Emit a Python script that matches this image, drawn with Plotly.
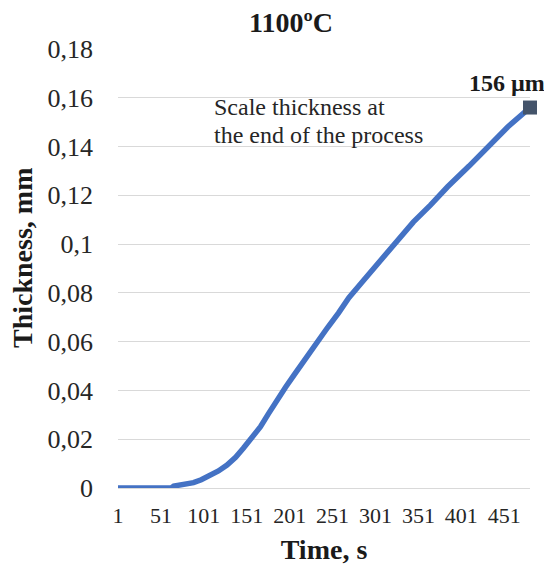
import plotly.graph_objects as go

# Data
time_s = [1, 30, 63, 66, 77, 89, 98, 108, 118, 128, 138, 147, 157, 167, 176, 186,
          196, 206, 216, 225, 235, 245, 258, 270, 285, 300, 313, 327, 345, 365,
          385, 410, 432, 455, 481]
thickness_mm = [0, 0, 0, 0.0008, 0.0015, 0.0022, 0.0034, 0.0049, 0.007, 0.0094,
                0.0126, 0.0163, 0.0205, 0.0251, 0.0303, 0.036, 0.0412, 0.0463,
                0.0514, 0.0562, 0.061, 0.0657, 0.0718, 0.078, 0.0843, 0.0905,
                0.096, 0.1016, 0.109, 0.116, 0.1235, 0.132, 0.140, 0.148, 0.156]

x_tick_vals = [1, 51, 101, 151, 201, 251, 301, 351, 401, 451]
x_tick_text = ["1", "51", "101", "151", "201", "251", "301", "351", "401", "451"]
y_tick_vals = [0, 0.02, 0.04, 0.06, 0.08, 0.10, 0.12, 0.14, 0.16, 0.18]
y_tick_text = ["0", "0,02", "0,04", "0,06", "0,08", "0,1", "0,12", "0,14", "0,16", "0,18"]

end_label = "156 µm"
note_lines = ["Scale thickness at", "the end of the process"]
y_title = "Thickness, mm"

FONT = "Liberation Serif"

fig = go.Figure()
fig.add_trace(go.Scatter(
    x=time_s, y=thickness_mm, mode="lines",
    line=dict(color="#4472C4", width=5.5),
    hoverinfo="skip", showlegend=False))
fig.add_trace(go.Scatter(
    x=[time_s[-1]], y=[thickness_mm[-1]], mode="markers", cliponaxis=False,
    marker=dict(symbol="square", size=14, color="#44546A"),
    hoverinfo="skip", showlegend=False))

fig.add_annotation(x=time_s[-1], y=thickness_mm[-1], text="<b>" + end_label + "</b>",
                   showarrow=False, xanchor="center", yanchor="middle", xshift=-23, yshift=25,
                   font=dict(family=FONT, size=24, color="#1a1a1a"))
fig.add_annotation(x=110.5, y=0.1561, text=note_lines[0], showarrow=False, align="left",
                   xanchor="left", yanchor="middle",
                   font=dict(family=FONT, size=24, color="#262626"))
fig.add_annotation(x=110.5, y=0.1447, text=note_lines[1], showarrow=False, align="left",
                   xanchor="left", yanchor="middle",
                   font=dict(family=FONT, size=24, color="#262626"))
# y-axis title placed precisely as a rotated annotation
fig.add_annotation(xref="paper", yref="paper", x=(22 - 118) / 412, y=(488 - 258) / 439,
                   text="<b>" + y_title + "</b>", textangle=-90, showarrow=False,
                   xanchor="center", yanchor="middle",
                   font=dict(family=FONT, size=28, color="#1a1a1a"))

fig.update_layout(
    width=544, height=565,
    margin=dict(l=118, r=14, t=49, b=77),
    paper_bgcolor="white", plot_bgcolor="white",
    font=dict(family=FONT, color="#262626"),
    title=dict(text="<b>1100ºC</b>", x=(291 - 118) / 412, xref="paper", xanchor="center",
               y=1 - 22 / 565, yanchor="middle",
               font=dict(family=FONT, size=28, color="#1a1a1a")),
)
fig.update_xaxes(range=[1, 481], tickvals=x_tick_vals, ticktext=x_tick_text,
                 automargin=False,
                 showgrid=False, showline=True, linecolor="#D9D9D9", linewidth=1,
                 zeroline=False, ticks="", ticklabelstandoff=8,
                 tickfont=dict(family=FONT, size=22, color="#262626"),
                 title=dict(text="<b>Time, s</b>", standoff=11,
                            font=dict(family=FONT, size=28, color="#1a1a1a")))
fig.update_yaxes(range=[0, 0.18], tickvals=y_tick_vals, ticktext=y_tick_text,
                 automargin=False,
                 showgrid=True, gridcolor="#D9D9D9", gridwidth=1, zeroline=False,
                 showline=False, ticks="", ticklabelstandoff=24,
                 tickfont=dict(family=FONT, size=26, color="#262626"))

fig.write_html("out.html", config={"displayModeBar": False})

# remove the default page margin so the figure fills the window exactly
with open("out.html", "r", encoding="utf-8") as f:
    html = f.read()
html = html.replace("<body>", '<body style="margin:0;padding:0;">', 1)
with open("out.html", "w", encoding="utf-8") as f:
    f.write(html)
